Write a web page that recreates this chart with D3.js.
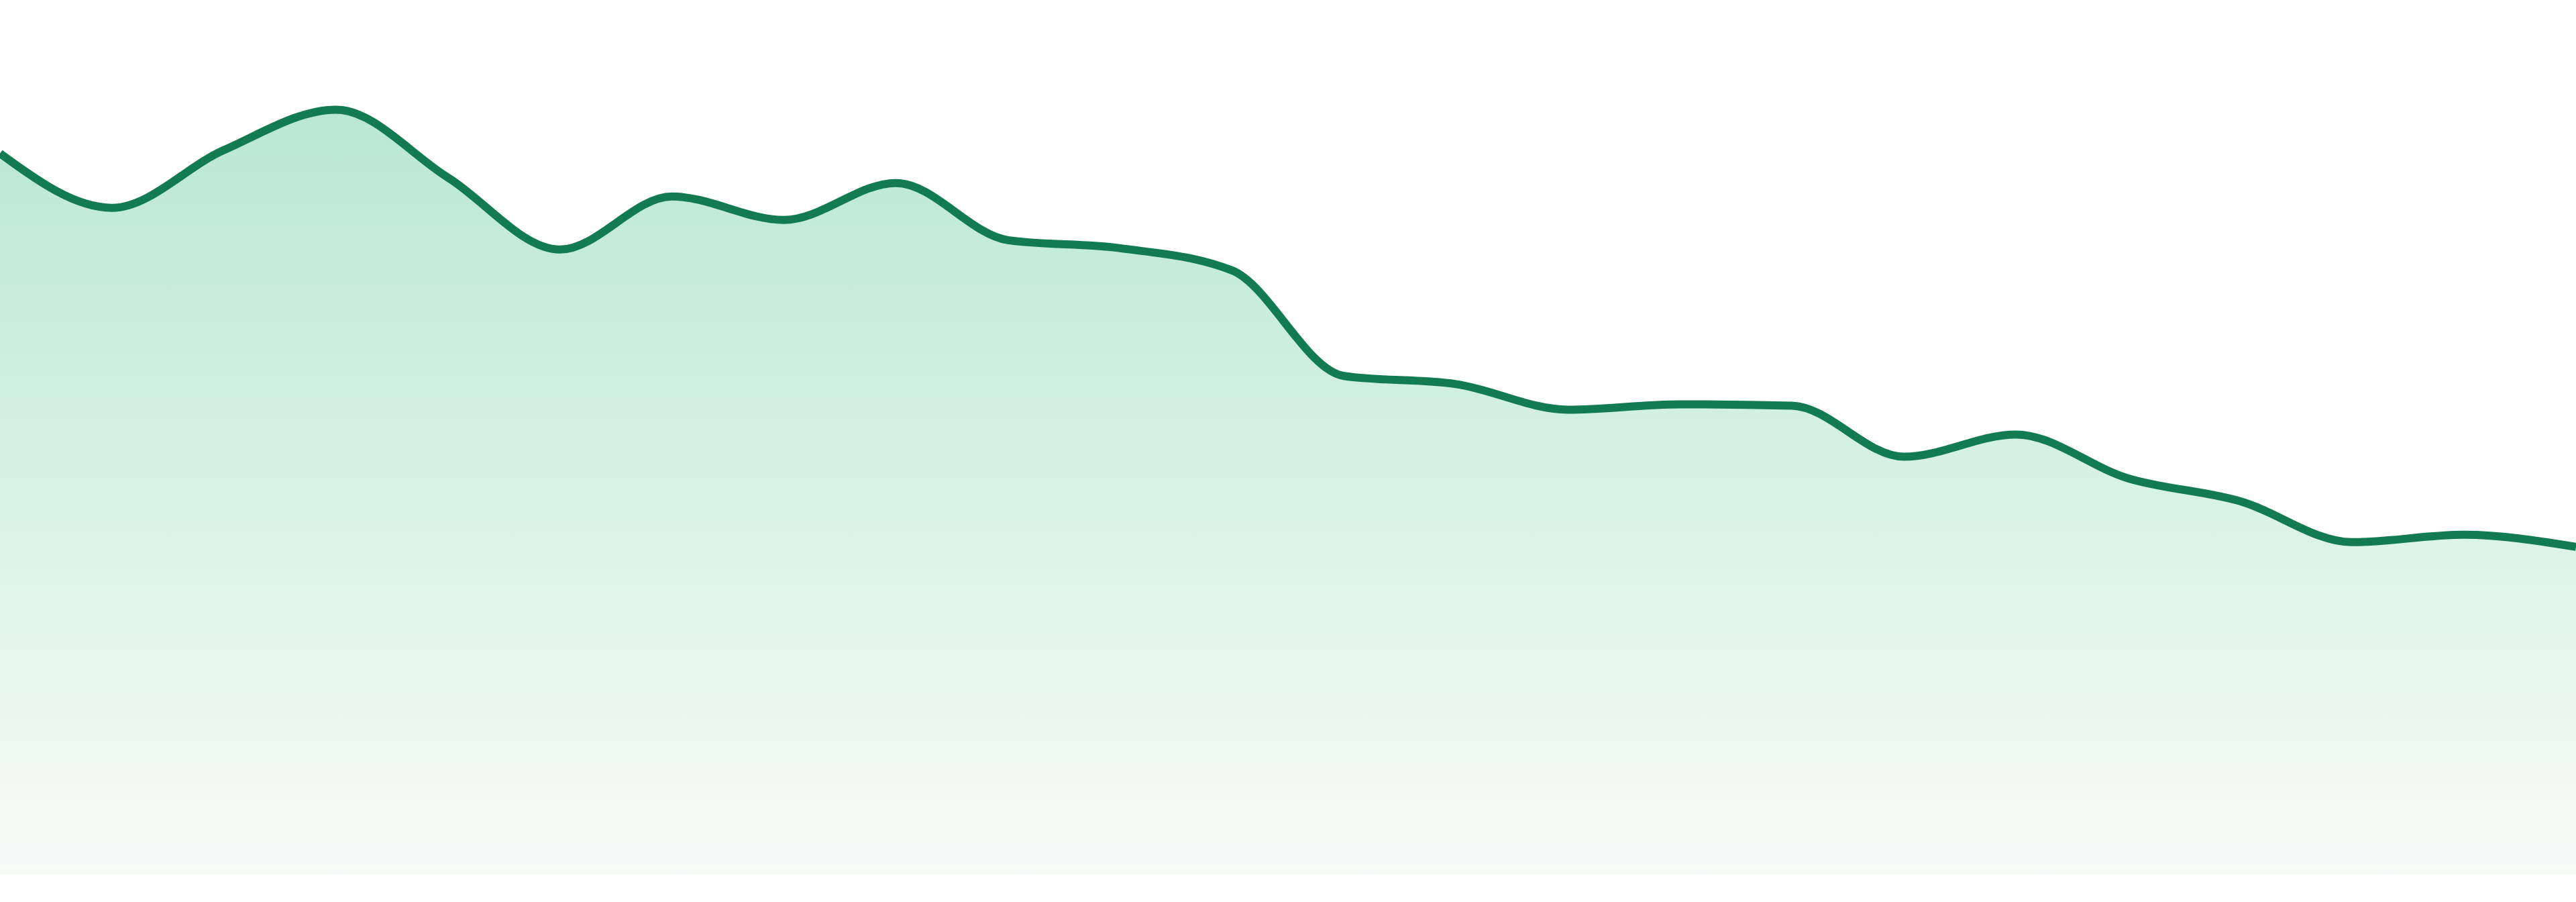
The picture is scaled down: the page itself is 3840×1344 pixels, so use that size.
<!DOCTYPE html>
<html>
<head>
<meta charset="utf-8">
<script src="https://cdn.jsdelivr.net/npm/d3@7"></script>
<style>
  html, body { margin: 0; padding: 0; background: #ffffff; overflow: hidden; }
  #chart svg { display: block; }
</style>
</head>
<body>
<div id="chart"></div>
<script>
// one value per step, left to right
var steps = d3.range(24);
var values = [107.2, 99.1, 107.7, 113.7, 103.6, 92.9, 100.8, 97.3, 102.8, 94.3, 93.1, 89.8,
              74.1, 72.9, 69.1, 69.9, 69.7, 62.1, 65.4, 58.9, 55.5, 49.4, 50.5, 48.7];
var yDomain = [0, 130];

var width = 3840, height = 1344;
var base = 1303; // bottom of the filled area

var svg = d3.select("#chart").append("svg")
  .attr("width", width)
  .attr("height", height);

var x = d3.scalePoint().domain(steps).range([0, width]);
var y = d3.scaleLinear().domain(yDomain).range([base, 0]);

var pts = steps.map(function(d, i) { return {step: d, v: values[i]}; });

var grad = svg.append("defs").append("linearGradient")
  .attr("id", "fillGrad")
  .attr("gradientUnits", "userSpaceOnUse")
  .attr("x1", 0).attr("x2", 0)
  .attr("y1", y(d3.max(values))).attr("y2", base);
grad.append("stop").attr("offset", 0).attr("stop-color", "#b9e8d2");
grad.append("stop").attr("offset", 1).attr("stop-color", "#f7fcf9");

var area = d3.area()
  .x(function(d) { return x(d.step); })
  .y0(base)
  .y1(function(d) { return y(d.v); })
  .curve(d3.curveMonotoneX);

var line = d3.line()
  .x(function(d) { return x(d.step); })
  .y(function(d) { return y(d.v); })
  .curve(d3.curveMonotoneX);

svg.append("path")
  .datum(pts)
  .attr("fill", "url(#fillGrad)")
  .attr("d", area);

svg.append("path")
  .datum(pts)
  .attr("fill", "none")
  .attr("stroke", "#137b52")
  .attr("stroke-width", 12)
  .attr("stroke-linejoin", "round")
  .attr("d", line);
</script>
</body>
</html>
